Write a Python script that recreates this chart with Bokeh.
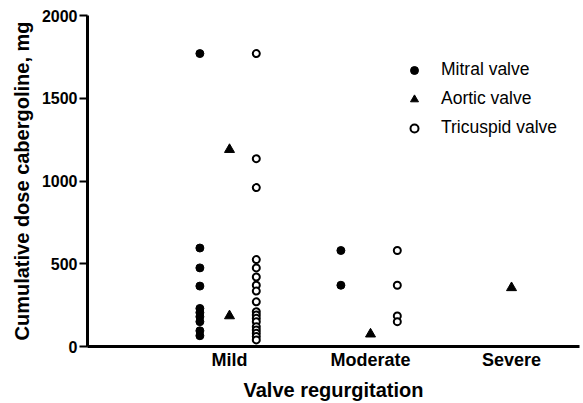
from bokeh.plotting import figure
from bokeh.models import Range1d, FixedTicker, Legend, LegendItem, ColumnDataSource
from bokeh.embed import file_html
from bokeh.resources import INLINE

categories = ["Mild", "Moderate", "Severe"]

mitral_cat = ["Mild"] * 10 + ["Moderate"] * 2
mitral_val = [1770, 595, 475, 365, 230, 205, 180, 150, 95, 65, 580, 370]

aortic_cat = ["Mild", "Mild", "Moderate", "Severe"]
aortic_val = [1190, 185, 75, 355]

tricuspid_cat = ["Mild"] * 18 + ["Moderate"] * 4
tricuspid_val = [1770, 1135, 960, 525, 475, 420, 370, 335, 270,
                 210, 190, 170, 150, 120, 100, 80, 60, 40,
                 580, 370, 185, 150]

y_ticks = [0, 500, 1000, 1500, 2000]

FONT = "Liberation Sans"


def xpos(cats, offset):
    return [categories.index(c) + 1 + offset for c in cats]


p = figure(width=583, height=403, output_backend="svg", toolbar_location=None,
           x_range=Range1d(-0.007, 3.482), y_range=Range1d(0, 2000),
           min_border_left=87, min_border_right=4, min_border_top=15, min_border_bottom=57)
p.outline_line_color = None
p.xgrid.visible = False
p.ygrid.visible = False

src_m = ColumnDataSource(dict(x=xpos(mitral_cat, -0.21), y=mitral_val))
src_a = ColumnDataSource(dict(x=xpos(aortic_cat, 0.0), y=aortic_val))
src_t = ColumnDataSource(dict(x=xpos(tricuspid_cat, 0.19), y=tricuspid_val))

r_m = p.scatter("x", "y", source=src_m, marker="circle", size=8,
                fill_color="black", line_color="black")
r_a = p.scatter("x", "y", source=src_a, marker="triangle", size=10,
                fill_color="black", line_color="black")
r_t = p.scatter("x", "y", source=src_t, marker="circle", size=7,
                fill_color="white", line_color="black", line_width=2)

# axes
xa = p.xaxis[0]
xa.ticker = FixedTicker(ticks=[1, 2, 3])
xa.major_label_overrides = {1: "Mild", 2: "Moderate", 3: "Severe"}
xa.major_tick_out = 0
xa.major_tick_in = 0
xa.minor_tick_out = 0
xa.minor_tick_in = 0
xa.axis_line_width = 3
xa.major_label_standoff = 3
xa.major_label_text_font = FONT
xa.major_label_text_font_style = "bold"
xa.major_label_text_font_size = "18px"
xa.major_label_text_color = "black"
xa.axis_label = "Valve regurgitation"
xa.axis_label_text_font = FONT
xa.axis_label_text_font_style = "bold"
xa.axis_label_text_font_size = "20px"
xa.axis_label_text_color = "black"
xa.axis_label_standoff = 6

ya = p.yaxis[0]
ya.ticker = FixedTicker(ticks=y_ticks)
ya.major_tick_out = 8
ya.major_tick_in = 0
ya.minor_tick_out = 0
ya.minor_tick_in = 0
ya.major_tick_line_width = 2
ya.axis_line_width = 3
ya.major_label_standoff = 2
ya.major_label_text_font = FONT
ya.major_label_text_font_style = "bold"
ya.major_label_text_font_size = "16px"
ya.major_label_text_color = "black"
ya.axis_label = "Cumulative dose cabergoline, mg"
ya.axis_label_text_font = FONT
ya.axis_label_text_font_style = "bold"
ya.axis_label_text_font_size = "20px"
ya.axis_label_text_color = "black"
ya.axis_label_standoff = 6

legend = Legend(items=[
    LegendItem(label="Mitral valve", renderers=[r_m]),
    LegendItem(label="Aortic valve", renderers=[r_a]),
    LegendItem(label="Tricuspid valve", renderers=[r_t]),
], location=(317, 208))
legend.padding = 0
legend.margin = 0
legend.spacing = 8
legend.glyph_width = 20
legend.glyph_height = 20
legend.label_standoff = 17
legend.label_text_font = FONT
legend.label_text_font_size = "17.5px"
legend.label_text_color = "black"
legend.border_line_color = None
legend.background_fill_alpha = 0
p.add_layout(legend)

open("out.html", "w").write(file_html(p, INLINE))
